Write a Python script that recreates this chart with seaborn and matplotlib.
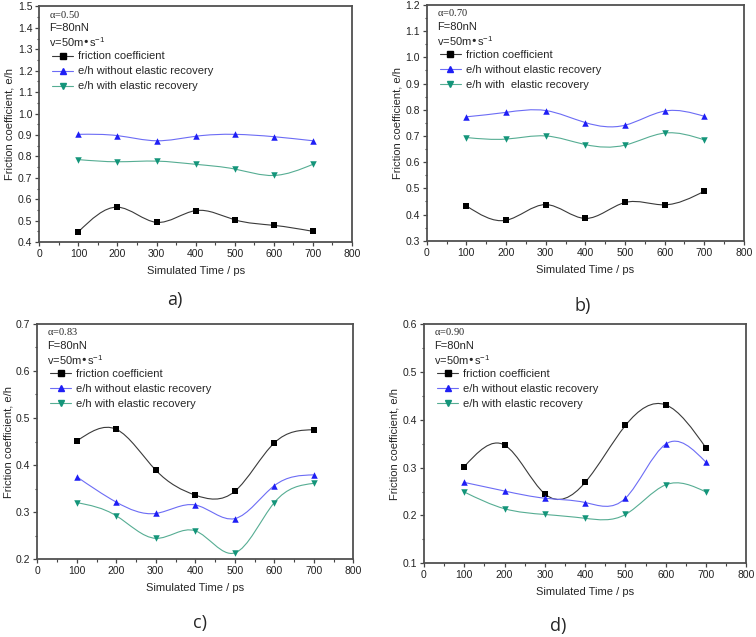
import numpy as np
import matplotlib
matplotlib.use('Agg')
import matplotlib.pyplot as plt
from matplotlib.path import Path
from matplotlib.patches import PathPatch
from matplotlib.lines import Line2D
from matplotlib.ticker import MultipleLocator, FormatStrFormatter
from matplotlib.transforms import offset_copy
import seaborn as sns

sns.set_style('ticks')
plt.rcParams['font.family'] = ['Liberation Sans', 'DejaVu Sans']
plt.rcParams['mathtext.default'] = 'regular'

# datos
time_ps = [100, 200, 300, 400, 500, 600, 700]

alphas = ['0.50', '0.70', '0.83', '0.90']
panel_tags = ['a)', 'b)', 'c)', 'd)']

friction_a = [0.448, 0.563, 0.492, 0.547, 0.504, 0.478, 0.450]
without_a = [0.903, 0.897, 0.873, 0.894, 0.903, 0.892, 0.873]
with_a = [0.785, 0.775, 0.778, 0.763, 0.741, 0.711, 0.763]

friction_b = [0.433, 0.378, 0.438, 0.385, 0.446, 0.437, 0.489]
without_b = [0.773, 0.790, 0.797, 0.751, 0.741, 0.795, 0.775]
with_b = [0.694, 0.688, 0.700, 0.667, 0.665, 0.711, 0.685]

friction_c = [0.451, 0.476, 0.389, 0.336, 0.344, 0.447, 0.475]
without_c = [0.375, 0.321, 0.297, 0.315, 0.286, 0.356, 0.379]
with_c = [0.320, 0.292, 0.244, 0.260, 0.213, 0.320, 0.361]

friction_d = [0.302, 0.347, 0.245, 0.269, 0.388, 0.431, 0.341]
without_d = [0.269, 0.251, 0.236, 0.227, 0.236, 0.349, 0.311]
with_d = [0.249, 0.214, 0.202, 0.194, 0.202, 0.264, 0.249]

y_limits = [(0.4, 1.5), (0.3, 1.2), (0.2, 0.7), (0.1, 0.6)]

series_labels = ['friction coefficient', 'e/h without elastic recovery',
                 'e/h with elastic recovery']
series_labels_b = ['friction coefficient', 'e/h without elastic recovery',
                   'e/h with  elastic recovery']

# estilo de cada serie: marcador, color marcador, color linea
markers = ['s', '^', 'v']
marker_colors = ['#000000', '#1f1ff5', '#14957a']
line_colors = ['#3a3a3a', '#6c6cf5', '#56ad93']

# posiciones de los ejes [left, bottom, width, height]
axes_pos = [
    [0.052, 0.620, 0.4136, 0.3698],
    [0.5644, 0.6221, 0.4197, 0.3701],
    [0.0493, 0.1224, 0.4180, 0.3690],
    [0.5608, 0.1157, 0.4264, 0.3757],
]
tag_pos = [(175, 300), (583, 306), (200, 623), (558, 626)]


def spline_path(x, y):
    # spline cubica natural dibujada como segmentos Bezier
    x = np.asarray(x, float)
    y = np.asarray(y, float)
    n = len(x)
    h = np.diff(x)
    A = np.zeros((n, n))
    r = np.zeros(n)
    A[0, 0] = A[-1, -1] = 1
    for i in range(1, n - 1):
        A[i, i - 1] = h[i - 1]
        A[i, i] = 2 * (h[i - 1] + h[i])
        A[i, i + 1] = h[i]
        r[i] = 6 * ((y[i + 1] - y[i]) / h[i] - (y[i] - y[i - 1]) / h[i - 1])
    M = np.linalg.solve(A, r)
    m = np.zeros(n)
    for i in range(n - 1):
        m[i] = (y[i + 1] - y[i]) / h[i] - h[i] * (2 * M[i] + M[i + 1]) / 6
    m[-1] = (y[-1] - y[-2]) / h[-1] + h[-1] * (M[-2] + 2 * M[-1]) / 6
    verts = [(x[0], y[0])]
    codes = [Path.MOVETO]
    for i in range(n - 1):
        d = h[i] / 3
        verts += [(x[i] + d, y[i] + d * m[i]),
                  (x[i + 1] - d, y[i + 1] - d * m[i + 1]),
                  (x[i + 1], y[i + 1])]
        codes += [Path.CURVE4] * 3
    return Path(verts, codes)


panels = [
    (friction_a, without_a, with_a),
    (friction_b, without_b, with_b),
    (friction_c, without_c, with_c),
    (friction_d, without_d, with_d),
]

fig = plt.figure(figsize=(7.56, 6.37), dpi=100)

for k in range(4):
    ax = fig.add_axes(axes_pos[k])
    for j, vals in enumerate(panels[k]):
        ax.add_patch(PathPatch(spline_path(time_ps, vals), fill=False,
                               edgecolor=line_colors[j], lw=0.8, zorder=2))
        sns.scatterplot(x=time_ps, y=vals, marker=markers[j], s=22,
                        color=marker_colors[j], edgecolor=marker_colors[j],
                        linewidth=0, zorder=3, ax=ax)

    ax.set_xlim(0, 800)
    ax.set_ylim(*y_limits[k])
    ax.xaxis.set_major_locator(MultipleLocator(100))
    ax.xaxis.set_minor_locator(MultipleLocator(50))
    ax.yaxis.set_major_locator(MultipleLocator(0.1))
    ax.yaxis.set_minor_locator(MultipleLocator(0.05))
    ax.yaxis.set_major_formatter(FormatStrFormatter('%.1f'))
    ax.tick_params(which='major', direction='out', length=3, width=0.9,
                   color='#444444', labelsize=7.5, pad=2,
                   labelcolor='#222222')
    ax.tick_params(which='minor', direction='out', length=1.8, width=0.8,
                   color='#444444')
    for sp in ax.spines.values():
        sp.set_visible(True)
        sp.set_color('#505050')
        sp.set_linewidth(1.3)
    ax.set_xlabel('Simulated Time / ps', fontsize=8, labelpad=5)
    ax.set_ylabel('Friction coefficient, e/h', fontsize=8, labelpad=2)

    # textos de cabecera
    ax.annotate(r'$\alpha$=' + alphas[k], xy=(0, 1), xycoords='axes fraction',
                xytext=(10, -8), textcoords='offset pixels', va='center',
                fontsize=7.5, family=['Liberation Serif', 'DejaVu Serif'])
    ax.annotate('F=80nN', xy=(0, 1), xycoords='axes fraction',
                xytext=(10, -22), textcoords='offset pixels', va='center',
                fontsize=8)
    ax.annotate('v=50m\u2022s$^{-1}$', xy=(0, 1), xycoords='axes fraction',
                xytext=(10, -36), textcoords='offset pixels', va='center',
                fontsize=8)

    labels = series_labels_b if k == 1 else series_labels
    handles = [Line2D([], [], color=line_colors[j], lw=0.8, marker=markers[j],
                      markersize=5, markerfacecolor=marker_colors[j],
                      markeredgecolor=marker_colors[j], label=labels[j])
               for j in range(3)]
    leg_tr = offset_copy(ax.transAxes, fig=fig, x=13, y=-45, units='dots')
    ax.legend(handles=handles, loc='upper left', frameon=False,
              bbox_to_anchor=(0, 1), bbox_transform=leg_tr, fontsize=8,
              borderpad=0, borderaxespad=0, handlelength=1.9,
              handletextpad=0.45, labelspacing=0.45)

    fig.text(tag_pos[k][0] / 756, 1 - tag_pos[k][1] / 637, panel_tags[k],
             ha='center', va='center', fontsize=13,
             family=['Open Sans', 'DejaVu Sans'])

fig.savefig('out.png', dpi=100)
